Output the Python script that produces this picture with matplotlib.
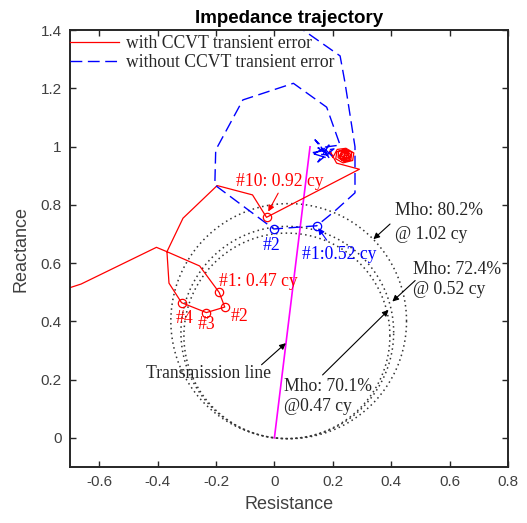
import matplotlib
matplotlib.use("Agg")
import matplotlib.pyplot as plt
import numpy as np

# ---------------- data ----------------
# red trajectory (with CCVT transient error)
red_x = [-0.702, -0.662, -0.404, -0.368, -0.256, -0.189, -0.170, -0.233, -0.318,
         -0.361, -0.368, -0.313, -0.196, -0.075, -0.027, 0.291, 0.213,
         0.190, 0.200, 0.215, 0.245, 0.272, 0.268, 0.235, 0.210, 0.214, 0.240,
         0.265, 0.262, 0.240, 0.218, 0.220, 0.245, 0.262, 0.255, 0.232, 0.222,
         0.232, 0.252, 0.258, 0.244, 0.226, 0.230, 0.248, 0.254, 0.240, 0.230,
         0.236, 0.249, 0.246, 0.236, 0.240, 0.244, 0.240]
red_y = [0.515, 0.528, 0.654, 0.639, 0.590, 0.499, 0.449, 0.430, 0.464,
         0.531, 0.639, 0.754, 0.866, 0.834, 0.757, 0.922, 0.943,
         0.985, 0.962, 0.990, 0.994, 0.978, 0.952, 0.944, 0.958, 0.982, 0.990,
         0.980, 0.955, 0.948, 0.962, 0.984, 0.988, 0.972, 0.952, 0.952, 0.968,
         0.984, 0.982, 0.962, 0.953, 0.962, 0.980, 0.980, 0.964, 0.957, 0.968,
         0.979, 0.974, 0.960, 0.964, 0.975, 0.969, 0.966]
red_mark_idx = [5, 6, 7, 8, 14]

# blue trajectory (without CCVT transient error)
blue_x = [0.070, 0.225, 0.242, 0.276, 0.276, 0.204, 0.145, -0.002, -0.204,
          -0.201, -0.108, 0.065, 0.179, 0.225,
          0.149, 0.197, 0.139, 0.190, 0.125, 0.204, 0.149, 0.187, 0.136, 0.184,
          0.160, 0.173]
blue_y = [1.420, 1.311, 1.218, 0.999, 0.841, 0.776, 0.728, 0.717, 0.868,
          0.988, 1.160, 1.217, 1.135, 1.005,
          0.995, 0.968, 1.023, 0.958, 0.978, 0.992, 0.947, 1.005, 0.975, 0.971,
          0.998, 0.981]
blue_mark_idx = [6, 7]

# transmission line impedance
line_x = [0.0, 0.122]
line_y = [0.0, 0.999]

# mho reach percentages
mho_pct = [0.802, 0.724, 0.701]

x_ticks = [-0.6, -0.4, -0.2, 0, 0.2, 0.4, 0.6, 0.8]
y_ticks = [0, 0.2, 0.4, 0.6, 0.8, 1.0, 1.2, 1.4]

# ---------------- figure ----------------
fig = plt.figure(figsize=(5.27, 5.23), dpi=100)
ax = fig.add_axes([70/527, 1-467/523, (508-70)/527, (467-30)/523])

axc = '#262626'
serif = ['Liberation Serif', 'DejaVu Serif']
sans = ['Liberation Sans', 'DejaVu Sans']
fs = 12.7

# mho circles
zl = complex(line_x[1], line_y[1])
t = np.linspace(0, 2*np.pi, 400)
for p in mho_pct:
    c = p * zl / 2
    r = abs(c)
    ax.plot(c.real + r*np.cos(t), c.imag + r*np.sin(t), color='#333333',
            lw=1.1, linestyle=(0, (1, 2.2)))

# transmission line
ax.plot(line_x, line_y, color='#ff00ff', lw=1.2)

# trajectories
lr, = ax.plot(red_x, red_y, color='#ff0000', lw=0.9, label='with CCVT transient error')
lb, = ax.plot(blue_x, blue_y, color='#0000ff', lw=1.0, dashes=(8.5, 4),
              label='without CCVT transient error')
ax.plot([red_x[i] for i in red_mark_idx], [red_y[i] for i in red_mark_idx], 'o',
        mfc='none', mec='#ff0000', ms=6, mew=0.9)
ax.plot([blue_x[i] for i in blue_mark_idx], [blue_y[i] for i in blue_mark_idx], 'o',
        mfc='none', mec='#0000ff', ms=6, mew=0.9)

# annotations
def arr(tail, head, color='k'):
    ax.annotate('', xy=head, xytext=tail,
                arrowprops=dict(arrowstyle='-|>', color=color, lw=0.8,
                                mutation_scale=9, shrinkA=0, shrinkB=0))

ax.text(0.414, 0.779, 'Mho: 80.2%', family=serif, fontsize=fs, color=axc, va='center')
ax.text(0.414, 0.697, '@ 1.02 cy', family=serif, fontsize=fs, color=axc, va='center')
arr((0.396, 0.734), (0.339, 0.682))

ax.text(0.476, 0.577, 'Mho: 72.4%', family=serif, fontsize=fs, color=axc, va='center')
ax.text(0.476, 0.508, '@ 0.52 cy', family=serif, fontsize=fs, color=axc, va='center')
arr((0.482, 0.540), (0.404, 0.468))

ax.text(0.033, 0.175, 'Mho: 70.1%', family=serif, fontsize=fs, color=axc, va='center')
ax.text(0.033, 0.106, '@0.47 cy', family=serif, fontsize=fs, color=axc, va='center')
arr((0.165, 0.216), (0.391, 0.439))

ax.text(-0.227, 0.222, 'Transmission line', family=serif, fontsize=fs, color=axc,
        va='center', ha='center')
arr((-0.044, 0.251), (0.039, 0.325))

ax.text(-0.130, 0.880, '#10: 0.92 cy', family=serif, fontsize=fs, color='#ff0000', va='center')
arr((0.013, 0.840), (-0.021, 0.777), color='#ff0000')
ax.text(-0.189, 0.536, '#1: 0.47 cy', family=serif, fontsize=fs, color='#ff0000', va='center')
ax.text(-0.118, 0.416, '#2', family=serif, fontsize=fs, color='#ff0000', va='center', ha='center')
ax.text(-0.233, 0.388, '#3', family=serif, fontsize=fs, color='#ff0000', va='center', ha='center')
ax.text(-0.307, 0.411, '#4', family=serif, fontsize=fs, color='#ff0000', va='center', ha='center')

ax.text(-0.010, 0.662, '#2', family=serif, fontsize=fs, color='#0000ff', va='center', ha='center')
ax.text(0.093, 0.628, '#1:0.52 cy', family=serif, fontsize=fs, color='#0000ff', va='center')
arr((0.179, 0.679), (0.150, 0.720), color='#0000ff')

# legend
leg = ax.legend(handles=[lr, lb], loc='upper left', bbox_to_anchor=(-0.006, 0.994),
                frameon=False, borderaxespad=0, borderpad=0.15, labelspacing=0.12,
                handlelength=2.8, handletextpad=0.4,
                prop={'family': serif, 'size': fs})
for txt in leg.get_texts():
    txt.set_color(axc)

# axes styling
ax.set_xlim(-0.7, 0.8)
ax.set_ylim(-0.1, 1.4)
ax.set_xticks(x_ticks)
ax.set_yticks(y_ticks)
ax.set_xticklabels(['-0.6', '-0.4', '-0.2', '0', '0.2', '0.4', '0.6', '0.8'])
ax.set_yticklabels(['0', '0.2', '0.4', '0.6', '0.8', '1', '1.2', '1.4'])
ax.tick_params(direction='in', top=True, right=True, length=4, width=1.0,
               colors=axc, labelsize=11, pad=6)
for lab in ax.get_xticklabels() + ax.get_yticklabels():
    lab.set_family(sans)
    lab.set_color('#404040')
for s in ax.spines.values():
    s.set_color(axc)
    s.set_linewidth(1.4)
ax.set_xlabel('Resistance', family=sans, fontsize=13, color='#404040', labelpad=5)
ax.set_ylabel('Reactance', family=sans, fontsize=13, color='#404040', labelpad=8)
ax.set_title('Impedance trajectory', family=sans, fontsize=13.5, fontweight='bold',
             color='#000000', pad=5)

fig.savefig('out.png', dpi=100)
